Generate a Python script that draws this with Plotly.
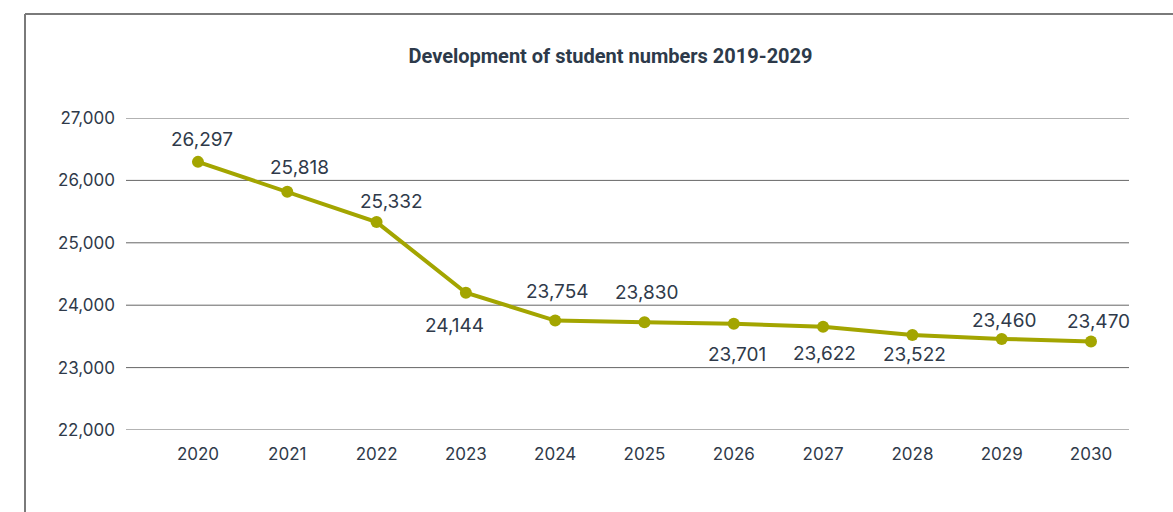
import plotly.graph_objects as go

# ---- data ----
years = [2020, 2021, 2022, 2023, 2024, 2025, 2026, 2027, 2028, 2029, 2030]
# plotted positions
students = [26297, 25818, 25332, 24200, 23754, 23725, 23701, 23655, 23522, 23460, 23420]
# printed data labels
label_texts = ["26,297", "25,818", "25,332", "24,144", "23,754", "23,830",
               "23,701", "23,622", "23,522", "23,460", "23,470"]
y_ticks = [22000, 23000, 24000, 25000, 26000, 27000]
y_ticktext = ["22,000", "23,000", "24,000", "25,000", "26,000", "27,000"]
title_text = "Development of student numbers 2019-2029"

# ---- styles ----
label_dx = [4, 12, 15, -11, 2, 2, 3, 1, 2, 2, 7]
label_dy = [22, 24, 21, -33, 29, 30, -31, -27, -19, 18, 20]
LINE = "#a3a500"
TXT = "#2f3a4a"

W, H = 1173, 512
ML, MR, MT, MB = 126, 44, 118, 82

fig = go.Figure()

# horizontal gridlines (at the y-axis tick values)
for v in y_ticks:
    fig.add_shape(type="line", xref="paper", yref="y", x0=0, x1=1, y0=v, y1=v,
                  line=dict(color="#666666", width=1), layer="below")

fig.add_trace(go.Scatter(
    x=years, y=students, mode="lines+markers",
    line=dict(color=LINE, width=4),
    marker=dict(color=LINE, size=12),
    cliponaxis=False, hoverinfo="skip", showlegend=False,
))

for x, y, t, dx, dy in zip(years, students, label_texts, label_dx, label_dy):
    fig.add_annotation(x=x, y=y, text=t, showarrow=False,
                       xshift=dx, yshift=dy,
                       font=dict(family="Inter", size=19, color=TXT))

# frame (top and left border)
pw = W - ML - MR
ph = H - MT - MB
def px_x(px):
    return (px - ML) / pw
def px_y(py):
    return (H - MB - py) / ph

fig.add_shape(type="line", xref="paper", yref="paper",
              x0=px_x(25), x1=px_x(W + 5), y0=px_y(14), y1=px_y(14),
              line=dict(color="#7a7a7a", width=2), layer="above")
fig.add_shape(type="line", xref="paper", yref="paper",
              x0=px_x(25), x1=px_x(25), y0=px_y(14), y1=px_y(H + 5),
              line=dict(color="#7a7a7a", width=2), layer="above")

fig.update_layout(
    width=W, height=H,
    margin=dict(l=ML, r=MR, t=MT, b=MB),
    paper_bgcolor="white", plot_bgcolor="white",
    title=dict(text=title_text, x=(610.5) / W, xanchor="center",
               y=1 - 56 / H, yanchor="middle",
               font=dict(family="Roboto", size=20,
                         color="#2d3a4a", weight="bold")),
    xaxis=dict(range=[2019.194, 2030.4255], tickvals=years,
               ticktext=[str(y) for y in years],
               showgrid=False, zeroline=False, showline=False,
               ticks="", ticklabelstandoff=12,
               tickfont=dict(family="Inter", size=17, color=TXT)),
    yaxis=dict(range=[22000, 27000], tickvals=y_ticks, ticktext=y_ticktext,
               showgrid=False, zeroline=False, showline=False, ticks="",
               ticklabelstandoff=10,
               tickfont=dict(family="Inter", size=17, color=TXT)),
)

fig.write_html("out.html")
